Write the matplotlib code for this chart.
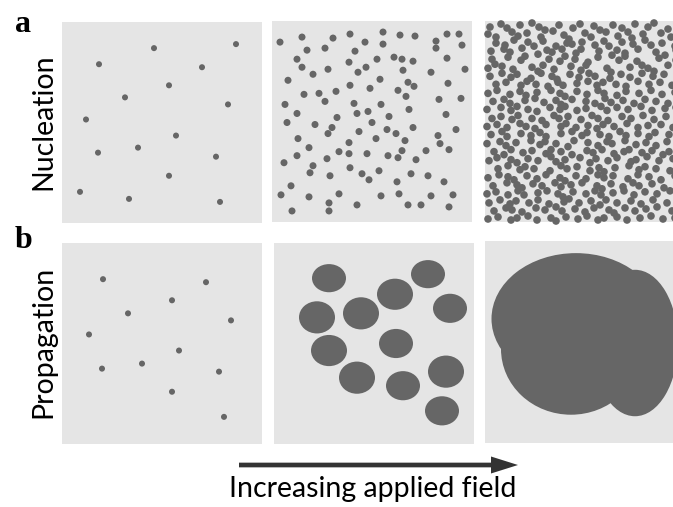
import numpy as np
import matplotlib.pyplot as plt
from matplotlib.collections import EllipseCollection
from matplotlib.patches import FancyArrow

plt.rcParams["font.family"] = ["Lato", "DejaVu Sans"]

W, H = 673, 507
PANEL_BG = "#e5e5e5"
DOT = "#666666"
ARROW = "#333333"

# all positions below are in panel units: x 0-200 left to right, y 0-200 top to bottom

# a, low field: a few nuclei
nuc_low = [(92, 26), (174, 22), (37, 42), (140, 45), (107, 63), (63, 75), (166, 82),
           (24, 97), (114, 113), (76, 125), (36, 130), (154, 134), (107, 153),
           (18, 169), (67, 176), (158, 179)]

# a, medium field
nuc_mid = [(8, 21), (30, 16), (61, 17), (78, 13), (111, 11), (128, 14), (143, 15), (164, 20),
           (175, 13), (187, 13), (35, 29), (53, 27), (83, 30), (93, 21), (111, 23), (164, 27),
           (190, 24), (25, 38), (105, 38), (122, 36), (130, 38), (141, 40), (175, 37), (30, 46),
           (56, 48), (77, 41), (86, 51), (94, 46), (131, 49), (159, 51), (193, 48), (41, 53),
           (16, 59), (108, 58), (136, 61), (142, 65), (176, 62), (78, 64), (98, 67), (126, 69),
           (32, 73), (47, 72), (53, 80), (64, 70), (134, 75), (167, 78), (189, 77), (13, 83),
           (82, 82), (109, 83), (25, 92), (85, 92), (96, 90), (117, 95), (137, 88), (174, 93),
           (15, 101), (43, 103), (65, 96), (100, 101), (60, 106), (56, 112), (87, 110),
           (115, 108), (124, 112), (141, 106), (184, 108), (26, 117), (37, 126), (77, 121),
           (104, 117), (133, 119), (166, 114), (168, 122), (25, 134), (67, 130), (77, 132),
           (95, 132), (116, 134), (126, 136), (130, 129), (154, 129), (177, 128), (12, 141),
           (55, 137), (41, 144), (38, 151), (78, 146), (90, 152), (97, 158), (107, 149),
           (144, 138), (139, 152), (156, 154), (58, 154), (19, 164), (125, 160), (172, 160),
           (9, 173), (37, 175), (67, 172), (109, 174), (127, 172), (159, 174), (181, 173),
           (57, 181), (85, 183), (136, 183), (149, 183), (20, 189), (57, 189), (177, 185)]

# a, high field: dense nuclei, roughly row by row from the top
nuc_high = [
    (5, 6), (16, 3), (22, 7), (35, 4), (47, 2), (54, 6), (60, 9), (74, 4), (88, 7), (95, 3),
    (109, 5), (115, 9), (128, 4), (137, 7), (150, 3), (163, 6), (169, 2), (183, 8), (192, 4),
    (3, 13), (11, 16), (27, 11), (33, 15), (42, 12), (56, 16), (68, 10), (79, 14), (84, 18),
    (100, 12), (106, 16), (121, 11), (133, 15), (143, 11), (147, 17), (158, 13), (176, 12),
    (186, 16), (197, 11),
    (11, 22), (20, 24), (29, 19), (43, 21), (49, 25), (58, 20), (71, 25), (82, 22), (87, 23),
    (97, 21), (110, 24), (119, 20), (124, 25), (137, 21), (148, 23), (160, 19), (166, 24),
    (177, 22), (190, 25),
    (6, 30), (19, 28), (25, 31), (37, 27), (53, 33), (62, 29), (67, 31), (77, 28), (91, 32),
    (96, 28), (114, 30), (127, 34), (132, 29), (140, 32), (153, 28), (171, 31), (180, 34), (191, 29),
    (7, 38), (10, 43), (23, 36), (36, 39), (40, 35), (64, 38), (75, 40), (80, 35), (90, 38),
    (103, 41), (113, 36), (134, 39), (140, 35), (152, 40), (157, 44), (174, 37), (191, 39),
    (3, 47), (17, 45), (28, 48), (47, 46), (53, 50), (58, 44), (69, 48), (86, 45), (96, 49),
    (101, 44), (122, 47), (126, 51), (145, 46), (163, 47), (169, 50), (183, 44), (196, 48),
    (5, 55), (17, 52), (26, 56), (32, 53), (46, 57), (56, 52), (67, 55), (72, 58), (85, 53),
    (94, 56), (104, 52), (110, 55), (125, 57), (136, 53), (145, 56), (157, 52), (168, 55),
    (179, 53), (192, 57),
    (11, 63), (21, 61), (36, 64), (42, 60), (51, 63), (63, 65), (73, 61), (78, 64), (92, 62),
    (103, 60), (112, 64), (118, 61), (131, 63), (141, 65), (153, 60), (164, 63), (175, 61),
    (187, 64), (196, 62),
    (3, 72), (12, 69), (25, 73), (35, 70), (41, 74), (52, 71), (66, 69), (75, 72), (80, 75),
    (92, 70), (102, 73), (113, 69), (119, 72), (132, 74), (141, 70), (154, 72), (166, 69),
    (177, 73), (190, 71),
    (8, 80), (19, 78), (25, 82), (40, 79), (50, 77), (59, 81), (71, 79), (76, 83), (87, 78),
    (101, 80), (110, 82), (120, 77), (126, 81), (138, 79), (149, 82), (160, 78), (171, 80),
    (183, 82), (195, 79),
    (2, 88), (16, 86), (26, 89), (32, 85), (43, 88), (52, 90), (65, 86), (75, 88), (80, 85),
    (92, 89), (101, 87), (116, 85), (122, 89), (132, 86), (143, 88), (156, 85), (167, 89),
    (180, 87), (191, 86),
    (7, 97), (16, 95), (27, 98), (33, 94), (47, 97), (57, 99), (69, 94), (74, 97), (83, 95),
    (96, 98), (107, 94), (113, 97), (123, 99), (137, 95), (146, 97), (158, 94), (169, 98),
    (181, 95), (193, 97),
    (2, 105), (12, 103), (22, 106), (35, 102), (41, 105), (50, 107), (61, 103), (76, 105),
    (81, 102), (91, 106), (103, 104), (112, 107), (118, 103), (129, 105), (142, 102),
    (153, 106), (163, 104), (176, 103), (188, 106),
    (6, 113), (17, 110), (22, 115), (36, 112), (46, 114), (55, 111), (61, 115), (76, 112),
    (87, 110), (97, 114), (102, 111), (115, 113), (124, 115), (135, 110), (141, 114),
    (153, 112), (164, 115), (170, 111), (184, 113), (194, 110),
    (2, 122), (15, 120), (21, 124), (31, 121), (46, 119), (55, 123), (60, 120), (71, 122),
    (83, 125), (89, 119), (103, 121), (113, 124), (122, 120), (127, 122), (140, 119),
    (151, 123), (161, 121), (171, 124), (182, 120), (193, 122),
    (9, 130), (19, 133), (26, 128), (38, 131), (47, 129), (61, 132), (66, 128), (76, 130),
    (87, 133), (102, 129), (108, 131), (117, 128), (129, 132), (139, 130), (144, 128),
    (157, 131), (167, 129), (178, 133), (184, 130), (195, 128),
    (4, 139), (12, 136), (26, 138), (32, 141), (43, 137), (53, 139), (66, 135), (71, 140),
    (80, 138), (95, 136), (105, 141), (111, 137), (123, 139), (132, 136), (146, 140),
    (151, 138), (162, 135), (174, 139), (188, 137),
    (13, 147), (23, 144), (35, 148), (40, 145), (49, 147), (65, 149), (76, 144), (82, 147),
    (92, 145), (105, 149), (114, 146), (119, 150), (130, 146), (144, 144), (154, 148),
    (160, 145), (171, 147), (185, 149), (193, 145),
    (3, 156), (14, 153), (23, 155), (29, 158), (42, 154), (52, 157), (61, 153), (75, 156),
    (80, 159), (91, 154), (101, 157), (113, 153), (119, 156), (128, 154), (143, 157),
    (153, 153), (164, 155), (176, 158), (190, 154),
    (8, 164), (22, 161), (32, 163), (37, 166), (48, 162), (57, 164), (70, 161), (76, 165),
    (86, 163), (97, 161), (112, 164), (117, 167), (126, 162), (138, 165), (148, 161),
    (154, 164), (167, 162), (179, 166), (192, 163),
    (2, 172), (11, 170), (23, 173), (33, 169), (39, 173), (53, 171), (62, 169), (73, 172),
    (78, 175), (88, 170), (101, 172), (110, 169), (116, 173), (128, 171), (139, 169),
    (149, 173), (160, 170), (172, 172), (185, 169), (195, 174),
    (4, 181), (15, 178), (25, 182), (31, 179), (44, 181), (53, 178), (64, 182), (79, 180),
    (84, 177), (94, 181), (106, 179), (115, 183), (121, 178), (132, 181), (146, 179),
    (156, 182), (168, 178), (182, 181), (193, 180),
    (9, 189), (21, 186), (27, 188), (37, 190), (51, 186), (60, 188), (71, 185), (77, 189),
    (90, 187), (100, 190), (109, 186), (124, 188), (129, 191), (140, 186), (150, 189),
    (161, 187), (172, 185), (187, 189),
    (3, 197), (13, 195), (26, 198), (32, 196), (43, 194), (52, 198), (66, 196), (71, 199),
    (81, 195), (93, 197), (102, 194), (113, 198), (119, 196), (132, 195), (142, 198),
    (155, 196), (166, 194), (178, 197), (190, 196),
]

# b, low field: same kind of sparse nuclei
prop_low = [(41, 36), (144, 39), (110, 57), (66, 70), (169, 77), (27, 91), (117, 107),
            (40, 125), (80, 120), (157, 128), (110, 148), (162, 173)]

# b, medium field: grown domains (centre, width, height)
prop_mid_xy = [(55, 35), (154, 31), (121, 51), (176, 65), (43, 74), (87, 70), (55, 107),
               (122, 100), (83, 134), (129, 142), (172, 128), (168, 167)]
prop_mid_w = [34, 34, 36, 34, 36, 36, 36, 34, 36, 34, 36, 34]
prop_mid_h = [28, 28, 31, 29, 32, 32, 31, 29, 32, 29, 32, 29]

# b, high field: domains merged into one
prop_high_xy = [(91, 77), (86, 107), (150, 101)]
prop_high_w = [169, 140, 86]
prop_high_h = [130, 130, 145]

fig = plt.figure(figsize=(W / 100, H / 100), dpi=100)


def panel(left, top, w=200, h=201):
    ax = fig.add_axes([left / W, 1 - (top + h) / H, w / W, h / H])
    ax.set_xlim(0, 200)
    ax.set_ylim(200, 0)
    ax.set_facecolor(PANEL_BG)
    ax.set_xticks([])
    ax.set_yticks([])
    for s in ax.spines.values():
        s.set_visible(False)
    return ax


def blobs(ax, xy, w, h):
    xy = np.asarray(xy, dtype=float)
    n = len(xy)
    ec = EllipseCollection(np.broadcast_to(w, n), np.broadcast_to(h, n), np.zeros(n),
                           units="xy", offsets=xy, offset_transform=ax.transData,
                           facecolors=DOT, edgecolors="none")
    ec.set_clip_on(False)
    ax.add_collection(ec)


ax = panel(62, 22)
blobs(ax, nuc_low, 6, 6)
ax = panel(272, 21)
blobs(ax, nuc_mid, 7, 7)
ax = panel(485, 21)
blobs(ax, nuc_high, 7.6, 7.6)

ax = panel(62, 243)
blobs(ax, prop_low, 6, 6)
ax = panel(274, 243)
blobs(ax, prop_mid_xy, prop_mid_w, prop_mid_h)
ax = panel(485, 241, h=202)
blobs(ax, prop_high_xy, prop_high_w, prop_high_h)

# labels and arrow on a full-figure overlay in pixel units
ov = fig.add_axes([0, 0, 1, 1])
ov.set_xlim(0, W)
ov.set_ylim(H, 0)
ov.axis("off")

ov.text(15, 32, "a", fontsize=23, fontweight="bold", family="Liberation Serif", va="baseline")
ov.text(15, 248, "b", fontsize=23, fontweight="bold", family="Liberation Serif", va="baseline")
ov.text(51, 122, "Nucleation", fontsize=20.5, rotation=90, rotation_mode="anchor",
        ha="center", va="baseline")
ov.text(51, 342, "Propagation", fontsize=20.5, rotation=90, rotation_mode="anchor",
        ha="center", va="baseline")
ov.text(373, 497, "Increasing applied field", fontsize=20.5, ha="center", va="baseline")
ov.add_patch(FancyArrow(239, 465, 279, 0, width=4.7, head_width=17, head_length=27,
                        length_includes_head=True, color=ARROW, lw=0))

fig.savefig("out.png", dpi=100)
